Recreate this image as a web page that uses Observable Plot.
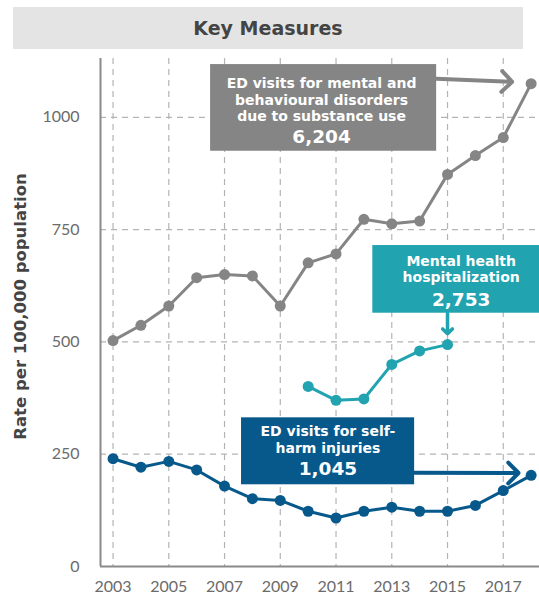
<!DOCTYPE html>
<html>
<head>
<meta charset="utf-8">
<script src="https://cdn.jsdelivr.net/npm/d3@7"></script>
<script src="https://cdn.jsdelivr.net/npm/@observablehq/plot@0.6"></script>
<style>
  html, body { margin: 0; padding: 0; background: #fff; }
  #title { margin: 7px 16px 0 13px; height: 42px; line-height: 42px; background: #e4e4e4;
           text-align: center; font-family: "DejaVu Sans", sans-serif; font-weight: 700;
           font-size: 19px; color: #444; }
  #chart svg { display: block; }
</style>
</head>
<body>
<div id="title">Key Measures</div>
<div id="chart"></div>
<script>
const years = [2003,2004,2005,2006,2007,2008,2009,2010,2011,2012,2013,2014,2015,2016,2017,2018];
const substanceUse = [503,537,580,643,650,647,580,676,696,773,763,769,873,915,955,1075];
const hospYears = [2010,2011,2012,2013,2014,2015];
const hospitalization = [401,370,373,450,480,494];
const selfHarm = [240,221,234,215,179,151,147,123,108,123,132,123,123,136,169,203];

const xTicks = [2003,2005,2007,2009,2011,2013,2015,2017];
const yTicks = [0,250,500,750,1000];
const xDomain = [2002.55, 2018.3];
const yDomain = [0, 1131];

const seriesColors = {gray: "#858585", teal: "#21a3b0", blue: "#07598b"};

// annotations (data-space anchors)
const boxes = [
  {x1: 2006.50, x2: 2014.61, y1: 924.5, y2: 1117.5, fill: seriesColors.gray},
  {x1: 2012.32, x2: 2018.3, y1: 563.9, y2: 714.6, fill: seriesColors.teal},
  {x1: 2007.61, x2: 2013.82, y1: 181.9, y2: 331, fill: seriesColors.blue}
];
const labels = [
  {x: 2010.48, y: 1040.2, text: "ED visits for mental and\nbehavioural disorders\ndue to substance use"},
  {x: 2015.49, y: 662.7, text: "Mental health\nhospitalization"},
  {x: 2010.71, y: 283.4, text: "ED visits for self-\nharm injuries"}
];
const totals = [
  {x: 2010.48, y: 955, text: "6,204"},
  {x: 2015.49, y: 593.7, text: "2,753"},
  {x: 2010.71, y: 217.5, text: "1,045"}
];
const longArrows = [
  {x1: 2014.60, y1: 1086, x2: 2017.32, y2: 1079, color: seriesColors.gray},
  {x1: 2013.82, y1: 209, x2: 2017.55, y2: 208.2, color: seriesColors.blue}
];
const shortArrows = [
  {x1: 2015.0, y1: 563.9, x2: 2015.0, y2: 518, color: seriesColors.teal}
];

const sub = years.map((y, i) => ({year: y, value: substanceUse[i]}));
const hosp = hospYears.map((y, i) => ({year: y, value: hospitalization[i]}));
const sh = years.map((y, i) => ({year: y, value: selfHarm[i]}));

const font = '"DejaVu Sans", sans-serif';

const chart = Plot.plot({
  width: 539,
  height: 549,
  marginTop: 9,
  marginBottom: 32,
  marginLeft: 100,
  marginRight: 0,
  style: {fontFamily: "Lato, sans-serif", background: "#fff", overflow: "visible"},
  x: {domain: xDomain},
  y: {domain: yDomain},
  marks: [
    Plot.gridX(xTicks, {stroke: "#b4b4b4", strokeOpacity: 1, strokeDasharray: "6,5", strokeWidth: 1.2}),
    Plot.gridY(yTicks.filter(d => d > 0), {stroke: "#b4b4b4", strokeOpacity: 1, strokeDasharray: "6,5", strokeWidth: 1.2}),
    Plot.axisY(yTicks, {tickSize: 0, tickPadding: 21, fontSize: 16, fill: "#6b6b6b", label: null, tickFormat: d => String(d)}),
    Plot.axisX(xTicks, {tickSize: 0, tickPadding: 14, fontSize: 16, fill: "#6b6b6b", label: null, tickFormat: d => String(d)}),
    Plot.ruleY([0], {stroke: "#8a8a8a", strokeWidth: 2}),
    Plot.ruleX([xDomain[0]], {stroke: "#8a8a8a", strokeWidth: 2}),
    Plot.text(["Rate per 100,000 population"], {frameAnchor: "left", textAnchor: "middle", dx: -80, dy: -6, rotate: -90,
      fontSize: 16.5, fontWeight: 700, fill: "#444", fontFamily: font}),
    Plot.line(sub, {x: "year", y: "value", stroke: seriesColors.gray, strokeWidth: 3}),
    Plot.dot(sub, {x: "year", y: "value", fill: seriesColors.gray, r: 5.5}),
    Plot.line(hosp, {x: "year", y: "value", stroke: seriesColors.teal, strokeWidth: 3}),
    Plot.dot(hosp, {x: "year", y: "value", fill: seriesColors.teal, r: 5.5}),
    Plot.line(sh, {x: "year", y: "value", stroke: seriesColors.blue, strokeWidth: 3}),
    Plot.dot(sh, {x: "year", y: "value", fill: seriesColors.blue, r: 5.5}),
    Plot.rect(boxes, {x1: "x1", x2: "x2", y1: "y1", y2: "y2", fill: "fill"}),
    Plot.arrow(longArrows, {x1: "x1", y1: "y1", x2: "x2", y2: "y2", stroke: "color", bend: 0,
      headLength: 5.5, headAngle: 90, strokeWidth: 4}),
    Plot.arrow(shortArrows, {x1: "x1", y1: "y1", x2: "x2", y2: "y2", stroke: "color", bend: 0,
      headLength: 5.5, headAngle: 90, strokeWidth: 3.5}),
    Plot.text(labels, {x: "x", y: "y", text: "text", fill: "#fff", fontSize: 14, fontWeight: 700,
      lineHeight: 1.18, fontFamily: font}),
    Plot.text(totals, {x: "x", y: "y", text: "text", fill: "#fff", fontSize: 18.5, fontWeight: 700,
      fontFamily: font})
  ]
});
document.getElementById("chart").appendChild(chart);
</script>
</body>
</html>
